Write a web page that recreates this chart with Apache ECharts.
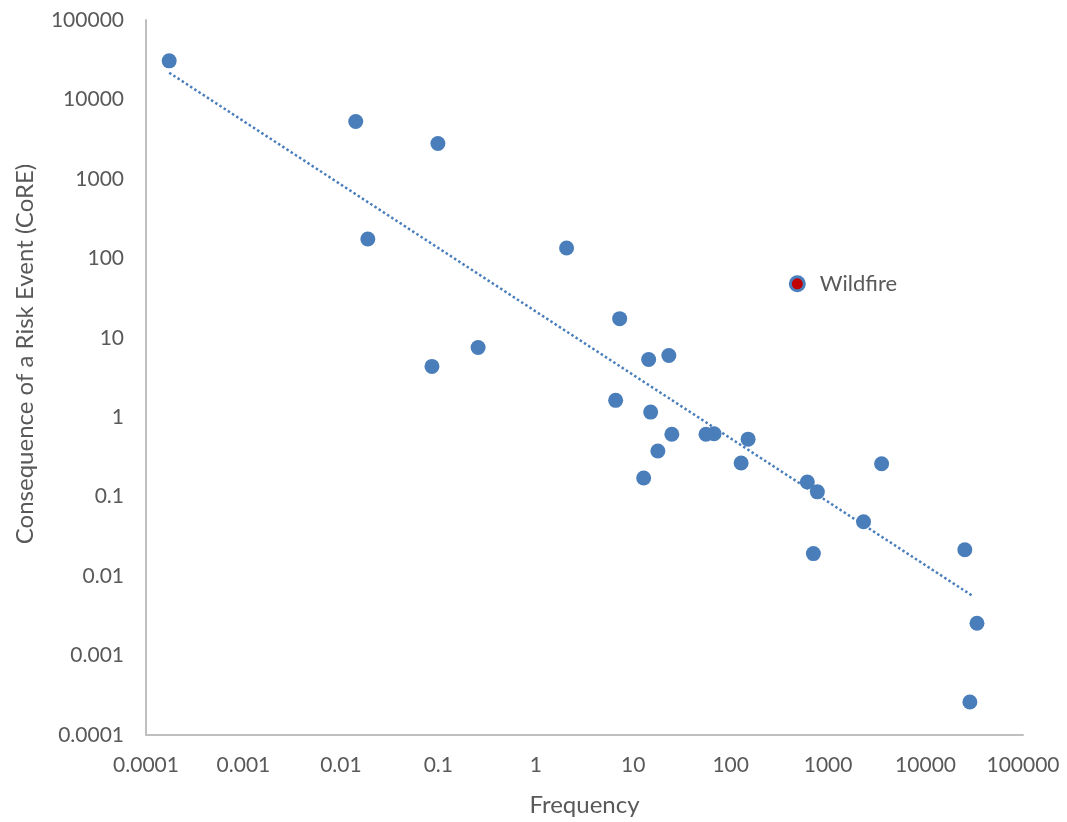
<!DOCTYPE html>
<html>
<head>
<meta charset="utf-8">
<script src="https://cdn.jsdelivr.net/npm/echarts@6/dist/echarts.min.js"></script>
<style>
  html, body { margin: 0; padding: 0; background: #fff; }
  #chart { width: 1067px; height: 822px; }
</style>
</head>
<body>
<div id="chart"></div>
<script>
// risk events (frequency vs consequence)
const frequency = [0.000173, 0.0142, 0.099, 0.0189, 2.07, 7.26, 0.256, 0.086, 14.4, 23.2, 6.6, 15.1, 24.9, 55.8, 67.5, 151, 17.9, 128, 12.8, 3540, 612, 776, 2310, 706, 25300, 33700, 28500];
const consequence = [30600, 5270, 2790, 175, 135, 17.4, 7.54, 4.36, 5.33, 5.98, 1.63, 1.16, 0.61, 0.61, 0.62, 0.53, 0.375, 0.265, 0.172, 0.26, 0.153, 0.115, 0.0483, 0.0192, 0.0215, 0.00255, 0.00026];

// highlighted event
const wildfireName = 'Wildfire';
const wildfirePoint = [483, 47.8];

// power trendline end points
const trendX = [0.000173, 29900];
const trendY = [21700, 0.0057];

// tick labels for both log axes
const tickLabels = ['0.0001', '0.001', '0.01', '0.1', '1', '10', '100', '1000', '10000', '100000'];

const xTitle = 'Frequency';
const yTitle = 'Consequence of a Risk Event (CoRE)';

const blue = '#4a7ebb';
const grey = '#595959';
const font = 'Lato';

function tickFmt(v) {
    let idx = Math.round(Math.log10(v)) + 4; //指数转为标签下标
    return tickLabels[idx] || '';
}

let chart = echarts.init(document.getElementById('chart'));

let option = {
    animation: false,
    textStyle: { fontFamily: font },
    grid: { left: 146, right: 44, top: 20, bottom: 85 },
    // y title sits a bit above the plot middle, like the original
    graphic: [{
        type: 'text',
        x: 25,
        y: 354,
        rotation: Math.PI / 2,
        style: {
            text: yTitle,
            fill: grey,
            font: '24px ' + font,
            align: 'center',
            verticalAlign: 'middle'
        }
    }],
    xAxis: {
        type: 'log',
        logBase: 10,
        min: 0.0001,
        max: 100000,
        name: xTitle,
        nameLocation: 'middle',
        nameGap: 58,
        nameTextStyle: { color: grey, fontSize: 24, fontFamily: font },
        axisLine: { lineStyle: { color: '#bfbfbf', width: 2 } },
        axisTick: { show: false },
        splitLine: { show: false },
        axisLabel: { color: grey, fontSize: 21, margin: 20, formatter: tickFmt }
    },
    yAxis: {
        type: 'log',
        logBase: 10,
        min: 0.0001,
        max: 100000,
        axisLine: { show: true, lineStyle: { color: '#bfbfbf', width: 2 } },
        axisTick: { show: false },
        splitLine: { show: false },
        axisLabel: { color: grey, fontSize: 21, margin: 22, formatter: tickFmt }
    },
    series: [{
        type: 'line', //趋势线
        data: trendX.map((x, i) => [x, trendY[i]]),
        showSymbol: false,
        lineStyle: { color: blue, width: 2.5, type: 'dotted' },
        z: 1
    }, {
        type: 'scatter',
        data: frequency.map((x, i) => [x, consequence[i]]),
        symbolSize: 15,
        itemStyle: { color: blue, opacity: 1 },
        z: 2
    }, {
        type: 'scatter',
        data: [{ value: wildfirePoint, name: wildfireName }],
        symbolSize: 14,
        itemStyle: { color: '#c00000', borderColor: blue, borderWidth: 3, opacity: 1 },
        label: {
            show: true,
            position: 'right',
            distance: 14,
            formatter: '{b}',
            color: grey,
            fontSize: 22,
            fontFamily: font
        },
        z: 3
    }]
};

chart.setOption(option);
</script>
</body>
</html>
